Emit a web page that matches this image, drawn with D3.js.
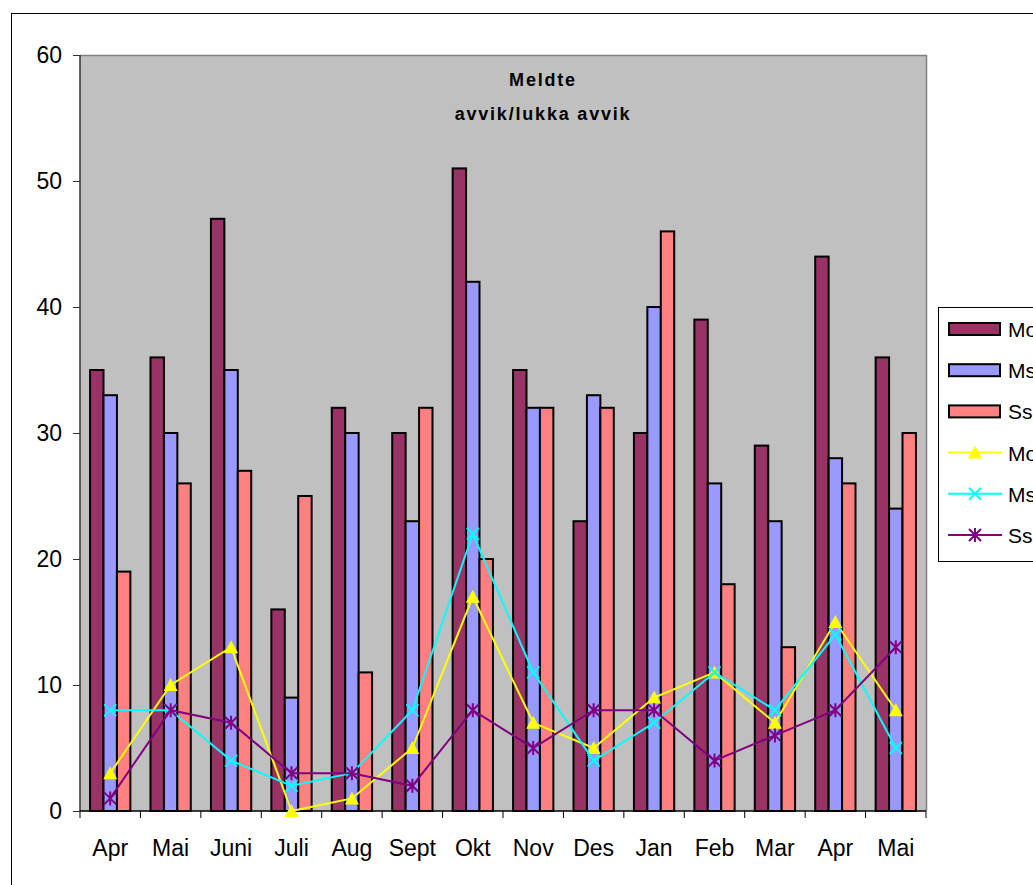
<!DOCTYPE html>
<html lang="en">
<head>
    <meta charset="UTF-8">
    <script src="https://cdnjs.cloudflare.com/ajax/libs/d3/7.8.5/d3.min.js"></script>
    <style>
        body { margin: 0; background: #fff; }
        svg { display: block; font-family: "Liberation Sans", Arial, sans-serif; }
    </style>
</head>
<body>
<svg width="1033" height="885"></svg>
<script>
    const months = ['Apr', 'Mai', 'Juni', 'Juli', 'Aug', 'Sept', 'Okt', 'Nov', 'Des', 'Jan', 'Feb', 'Mar', 'Apr', 'Mai'];
    const moBars = [35, 36, 47, 16, 32, 30, 51, 35, 23, 30, 39, 29, 44, 36];
    const msBars = [33, 30, 35, 9, 30, 23, 42, 32, 33, 40, 26, 23, 28, 24];
    const ssBars = [19, 26, 27, 25, 11, 32, 20, 32, 32, 46, 18, 13, 26, 30];
    const moLine = [3, 10, 13, 0, 1, 5, 17, 7, 5, 9, 11, 7, 15, 8];
    const msLine = [8, 8, 4, 2, 3, 8, 22, 11, 4, 7, 11, 8, 14, 5];
    const ssLine = [1, 8, 7, 3, 3, 2, 8, 5, 8, 8, 4, 6, 8, 13];
    const yTicks = [0, 10, 20, 30, 40, 50, 60];

    const barSeries = [
        {name: 'Mo', values: moBars, color: '#993366'},
        {name: 'Ms', values: msBars, color: '#9999FF'},
        {name: 'Ss', values: ssBars, color: '#FF8080'}
    ];
    const lineSeries = [
        {name: 'Mo', values: moLine, color: '#FFFF00', marker: 'triangle'},
        {name: 'Ms', values: msLine, color: '#00FFFF', marker: 'x'},
        {name: 'Ss', values: ssLine, color: '#800080', marker: 'star'}
    ];

    const svg = d3.select('svg');
    const plotL = 80, plotR = 926, plotT = 55, plotB = 811;

    // outer chart border
    svg.append('rect')
        .attr('x', 11.5).attr('y', 13.5)
        .attr('width', 1040).attr('height', 900)
        .attr('fill', 'none').attr('stroke', '#000').attr('stroke-width', 1);

    const idx = d3.range(months.length);
    const xScale = d3.scaleBand().domain(idx).range([plotL, plotR]);
    const yScale = d3.scaleLinear().domain([0, 60]).range([plotB, plotT]);
    const barScale = d3.scaleBand().domain(d3.range(3))
        .range([0, xScale.bandwidth()]).paddingInner(0).paddingOuter(0.75);

    // plot area
    svg.append('rect')
        .attr('x', plotL).attr('y', plotT)
        .attr('width', plotR - plotL).attr('height', plotB - plotT)
        .attr('fill', '#C0C0C0');
    svg.append('path')
        .attr('d', `M${plotL},${plotT + 0.5}H${plotR + 0.5}V${plotB}`)
        .attr('fill', 'none').attr('stroke', '#808080').attr('stroke-width', 1.5);

    // bars
    barSeries.forEach((s, k) => {
        svg.append('g').selectAll('rect')
            .data(s.values).enter()
            .append('rect')
            .attr('x', (d, i) => xScale(i) + barScale(k))
            .attr('y', d => yScale(d))
            .attr('width', barScale.bandwidth())
            .attr('height', d => plotB - yScale(d))
            .attr('fill', s.color)
            .attr('stroke', '#000').attr('stroke-width', 2);
    });

    // y axis
    const yAxis = d3.axisLeft(yScale).tickValues(yTicks).tickSize(7).tickPadding(11);
    const gy = svg.append('g').attr('transform', `translate(${plotL},0)`).call(yAxis);
    gy.select('.domain').attr('stroke', '#333').attr('stroke-width', 1.5).attr('d', `M0,${plotT}V${plotB}`);
    gy.selectAll('.tick line').attr('stroke', '#333');
    gy.selectAll('.tick text').attr('font-size', 23).attr('fill', '#000')
        .attr('font-family', '"Liberation Sans", Arial, sans-serif');

    // x axis: ticks at band edges
    const gx = svg.append('g');
    gx.append('line').attr('x1', plotL).attr('x2', plotR)
        .attr('y1', plotB).attr('y2', plotB).attr('stroke', '#000').attr('stroke-width', 1.5);
    gx.selectAll('.edge').data(d3.range(months.length + 1)).enter()
        .append('line')
        .attr('x1', i => i < months.length ? xScale(i) : plotR)
        .attr('x2', i => i < months.length ? xScale(i) : plotR)
        .attr('y1', plotB).attr('y2', plotB + 7)
        .attr('stroke', '#000');
    gx.selectAll('text').data(months).enter()
        .append('text')
        .attr('x', (d, i) => xScale(i) + xScale.bandwidth() / 2)
        .attr('y', plotB + 45)
        .attr('text-anchor', 'middle')
        .attr('font-size', 23)
        .text(d => d);

    // lines with markers
    function drawMarker(g, type, color, x, y) {
        if (type === 'triangle') {
            g.append('path')
                .attr('d', `M${x},${y - 7}L${x + 7},${y + 6}L${x - 7},${y + 6}Z`)
                .attr('fill', color);
        } else if (type === 'x') {
            g.append('path')
                .attr('d', `M${x - 6},${y - 6}L${x + 6},${y + 6}M${x - 6},${y + 6}L${x + 6},${y - 6}`)
                .attr('stroke', color).attr('stroke-width', 2);
        } else {
            g.append('path')
                .attr('d', `M${x - 6},${y - 6}L${x + 6},${y + 6}M${x - 6},${y + 6}L${x + 6},${y - 6}M${x},${y - 7}V${y + 7}`)
                .attr('stroke', color).attr('stroke-width', 2);
        }
    }

    const line = d3.line()
        .x((d, i) => xScale(i) + xScale.bandwidth() / 2)
        .y(d => yScale(d));

    lineSeries.forEach(s => {
        const g = svg.append('g');
        g.append('path').attr('d', line(s.values))
            .attr('fill', 'none').attr('stroke', s.color).attr('stroke-width', 2);
        s.values.forEach((d, i) => drawMarker(g, s.marker, s.color,
            xScale(i) + xScale.bandwidth() / 2, yScale(d)));
    });

    // title
    const title = svg.append('text')
        .attr('text-anchor', 'middle')
        .attr('font-size', 18).attr('font-weight', 'bold')
        .attr('letter-spacing', 1.8);
    title.append('tspan').attr('x', 543).attr('y', 86).text('Meldte');
    title.append('tspan').attr('x', 543).attr('y', 120).text('avvik/lukka avvik');

    // legend
    const lg = svg.append('g');
    lg.append('rect').attr('x', 938.5).attr('y', 307.5)
        .attr('width', 120).attr('height', 254)
        .attr('fill', '#fff').attr('stroke', '#000');
    const itemY = d3.scalePoint().domain(d3.range(6)).range([329, 535]);
    barSeries.forEach((s, k) => {
        lg.append('rect').attr('x', 949).attr('y', itemY(k) - 6)
            .attr('width', 51).attr('height', 12)
            .attr('fill', s.color).attr('stroke', '#000').attr('stroke-width', 2);
        lg.append('text').attr('x', 1008).attr('y', itemY(k) + 8)
            .attr('font-size', 21).text(s.name);
    });
    lineSeries.forEach((s, k) => {
        const y = itemY(k + 3);
        lg.append('line').attr('x1', 948).attr('x2', 1002)
            .attr('y1', y).attr('y2', y)
            .attr('stroke', s.color).attr('stroke-width', 2);
        drawMarker(lg, s.marker, s.color, 975, y);
        lg.append('text').attr('x', 1008).attr('y', y + 8)
            .attr('font-size', 21).text(s.name);
    });
</script>
</body>
</html>
